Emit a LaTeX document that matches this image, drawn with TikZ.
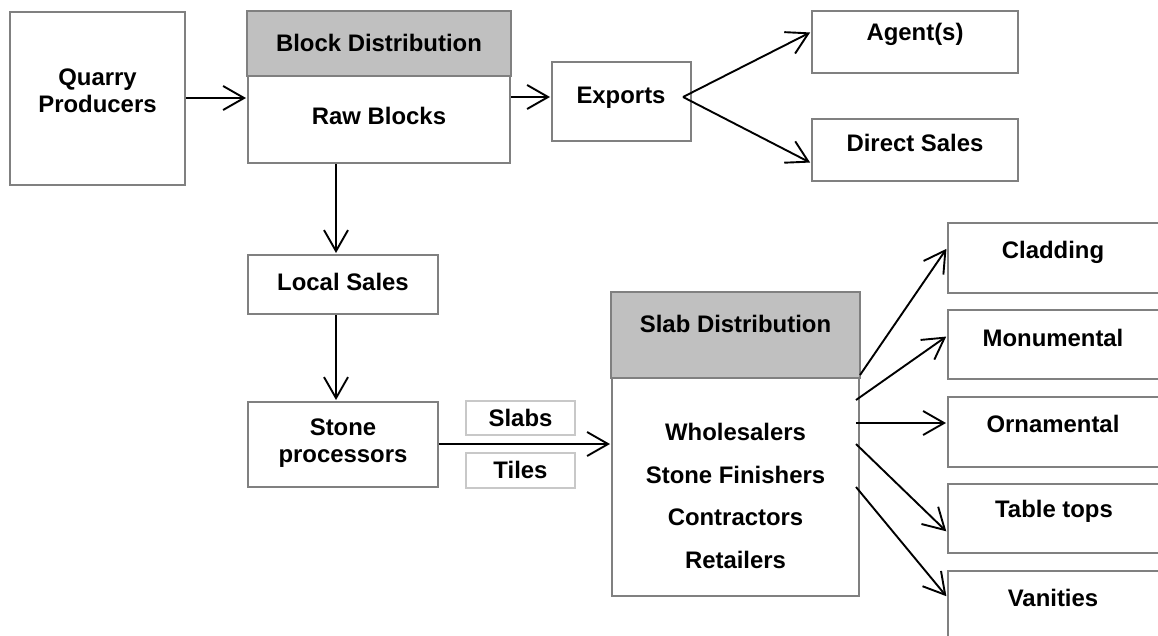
\documentclass[tikz,border=0pt]{standalone}
\usepackage{fontspec}
\setmainfont{Liberation Sans}
\usetikzlibrary{arrows.meta,calc}
\definecolor{boxline}{RGB}{128,128,128}
\definecolor{headfill}{RGB}{192,192,192}
\definecolor{lightline}{RGB}{200,200,200}
\begin{document}
\begin{tikzpicture}[x=1pt,y=-1pt,
  box/.style={draw=boxline,line width=2pt,fill=white,inner sep=0pt},
  lbox/.style={draw=lightline,line width=2pt,fill=white,inner sep=0pt},
  head/.style={draw=boxline,line width=2pt,fill=headfill},
  txt/.style={font=\fontsize{23.9}{27}\selectfont\bfseries,inner sep=0pt,align=center},
  list/.style={font=\fontsize{23.9}{42.5}\selectfont\bfseries,inner sep=0pt,align=center},
  arr/.style={line width=1.9pt,-{Straight Barb[length=21pt,width=24pt]},shorten >=1pt}]
\useasboundingbox (0,0) rectangle (1158,635);
\clip (0,0) rectangle (1158,635);
% boxes
\node[box,minimum width=175pt,minimum height=173pt] (quarry) at (97.5,98.5) {};
\node[box,minimum width=262pt,minimum height=151pt] (block) at (379,87.5) {};
\draw[head] (block.north west) rectangle ($(block.north east)+(0,65)$);
\node[box,minimum width=139pt,minimum height=79pt] (exports) at (621.5,101.5) {};
\node[box,minimum width=206pt,minimum height=62pt] (agents) at (915,42) {};
\node[box,minimum width=206pt,minimum height=62pt] (direct) at (915,150) {};
\node[box,minimum width=190pt,minimum height=59pt] (local) at (343,284.5) {};
\node[box,minimum width=190pt,minimum height=85pt] (stone) at (343,444.5) {};
\node[lbox,minimum width=109pt,minimum height=34pt] (slabs) at (520.5,418) {};
\node[lbox,minimum width=109pt,minimum height=35pt] (tiles) at (520.5,470.5) {};
\node[box,minimum width=247pt,minimum height=303pt] (slabd) at (735.5,444.5) {};
\draw[head] (slabd.north west) rectangle ($(slabd.north east)+(0,86)$);
\node[box,minimum width=222pt,minimum height=70pt] (cladding) at (1059,258) {};
\node[box,minimum width=222pt,minimum height=69pt] (monumental) at (1059,344.5) {};
\node[box,minimum width=222pt,minimum height=70pt] (ornamental) at (1059,432) {};
\node[box,minimum width=222pt,minimum height=69pt] (tabletops) at (1059,518.5) {};
\node[box,minimum width=222pt,minimum height=80pt] (vanities) at (1059,611) {};
% texts
\node[txt] (tquarry) at (97.5,91) {Quarry\\Producers};
\node[txt] (tblockhead) at (379,43) {Block Distribution};
\node[txt] (traw) at (379,116) {Raw Blocks};
\node[txt] (texports) at (621,98) {Exports};
\node[txt] (tagents) at (915,34) {Agent(s)};
\node[txt] (tdirect) at (915,143) {Direct Sales};
\node[txt] (tlocal) at (343,282) {Local Sales};
\node[txt] (tstone) at (343,443) {Stone\\processors};
\node[txt] (tslabs) at (520.5,418) {Slabs};
\node[txt] (ttiles) at (520.5,470) {Tiles};
\node[txt] (tslabhead) at (735.5,324) {Slab Distribution};
\node[list] (tslablist) at (735.5,496) {Wholesalers\\Stone Finishers\\Contractors\\Retailers};
\node[txt] (tcladding) at (1053,252) {Cladding};
\node[txt] (tmonumental) at (1053,338) {Monumental};
\node[txt] (tornamental) at (1053,424) {Ornamental};
\node[txt] (ttabletops) at (1054,511) {Table tops};
\node[txt] (tvanities) at (1053,598) {Vanities};
% connectors
\draw[arr] (quarry.east |- 0,98) -- (block.west |- 0,98);
\draw[arr] (block.east |- 0,97) -- (exports.west |- 0,97);
\coordinate (exstart) at (683,97);
\draw[arr] (exstart) -- (agents.west |- 0,32);
\draw[arr] (exstart) -- (direct.west |- 0,163);
\draw[arr] (336,0 |- block.south) -- (336,0 |- local.north);
\draw[arr] (336,0 |- local.south) -- (336,0 |- stone.north);
\draw[arr] (stone.east |- 0,444) -- (slabd.west |- 0,444);
\coordinate (s1) at (860,375);
\coordinate (s2) at (856,400);
\coordinate (s3) at (856,423);
\coordinate (s4) at (856,444);
\coordinate (s5) at (856,487);
\draw[arr] (s1) -- (cladding.west |- 0,248);
\draw[arr] (s2) -- (monumental.west |- 0,336);
\draw[arr] (s3) -- (ornamental.west |- 0,423);
\draw[arr] (s4) -- (tabletops.west |- 0,532);
\draw[arr] (s5) -- (vanities.west |- 0,597);
\end{tikzpicture}
\end{document}
